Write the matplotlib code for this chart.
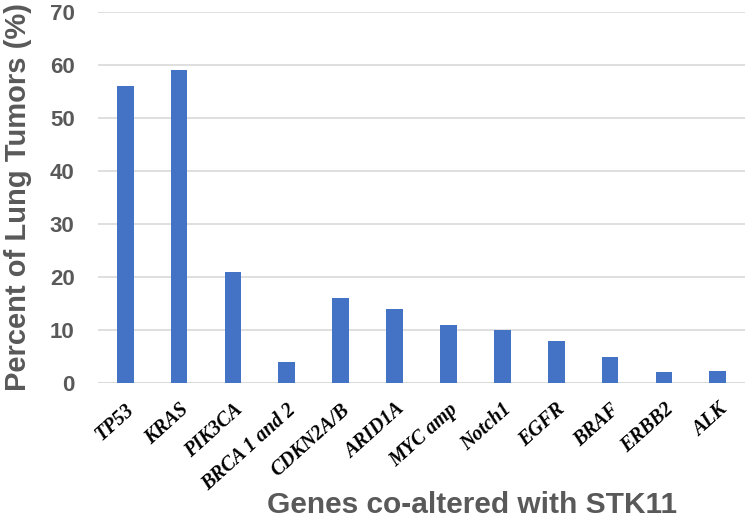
import numpy as np
import matplotlib.pyplot as plt

genes = ['TP53', 'KRAS', 'PIK3CA', 'BRCA 1 and 2', 'CDKN2A/B', 'ARID1A',
         'MYC amp', 'Notch1', 'EGFR', 'BRAF', 'ERBB2', 'ALK']
percent = [56, 59, 21, 4, 16, 14, 11, 10, 8, 5, 2, 2.2]
yticks = [0, 10, 20, 30, 40, 50, 60, 70]

gray = '#595959'

fig = plt.figure(figsize=(7.5, 5.29), dpi=100)
ax = fig.add_axes([0.131, 0.276, 0.862, 0.701])

x = np.arange(len(genes))
ax.bar(x, percent, width=0.31, color='#4472C4', zorder=3)

ax.set_ylim(0, 70)
ax.set_xlim(-0.5, len(genes) - 0.5)
ax.set_yticks(yticks)
ax.yaxis.grid(True, color='#d9d9d9', linewidth=1.2, zorder=0)
for s in ax.spines.values():
    s.set_visible(False)
ax.axhline(0, color='#d9d9d9', linewidth=1.2, zorder=1)
ax.tick_params(axis='both', length=0)
ax.tick_params(axis='y', pad=17)

for lab in ax.get_yticklabels():
    lab.set_fontfamily('Liberation Sans')
    lab.set_fontweight('bold')
    lab.set_fontsize(16)
    lab.set_color(gray)

ax.set_xticks(x)
ax.set_xticklabels(genes, rotation=42, ha='right', rotation_mode='anchor',
                   fontfamily='Liberation Serif', fontstyle='italic',
                   fontweight='bold', fontsize=14.5)
ax.tick_params(axis='x', pad=12)

fig.text(0.63, 0.045, 'Genes co-altered with STK11', ha='center', va='center',
         fontfamily='Liberation Sans', fontweight='bold', fontsize=21.5, color=gray)
fig.text(0.024, 0.628, 'Percent of Lung Tumors (%)', ha='center', va='center',
         rotation=90, fontfamily='Liberation Sans', fontweight='bold',
         fontsize=21, color=gray)

fig.savefig('out.png', dpi=100)
